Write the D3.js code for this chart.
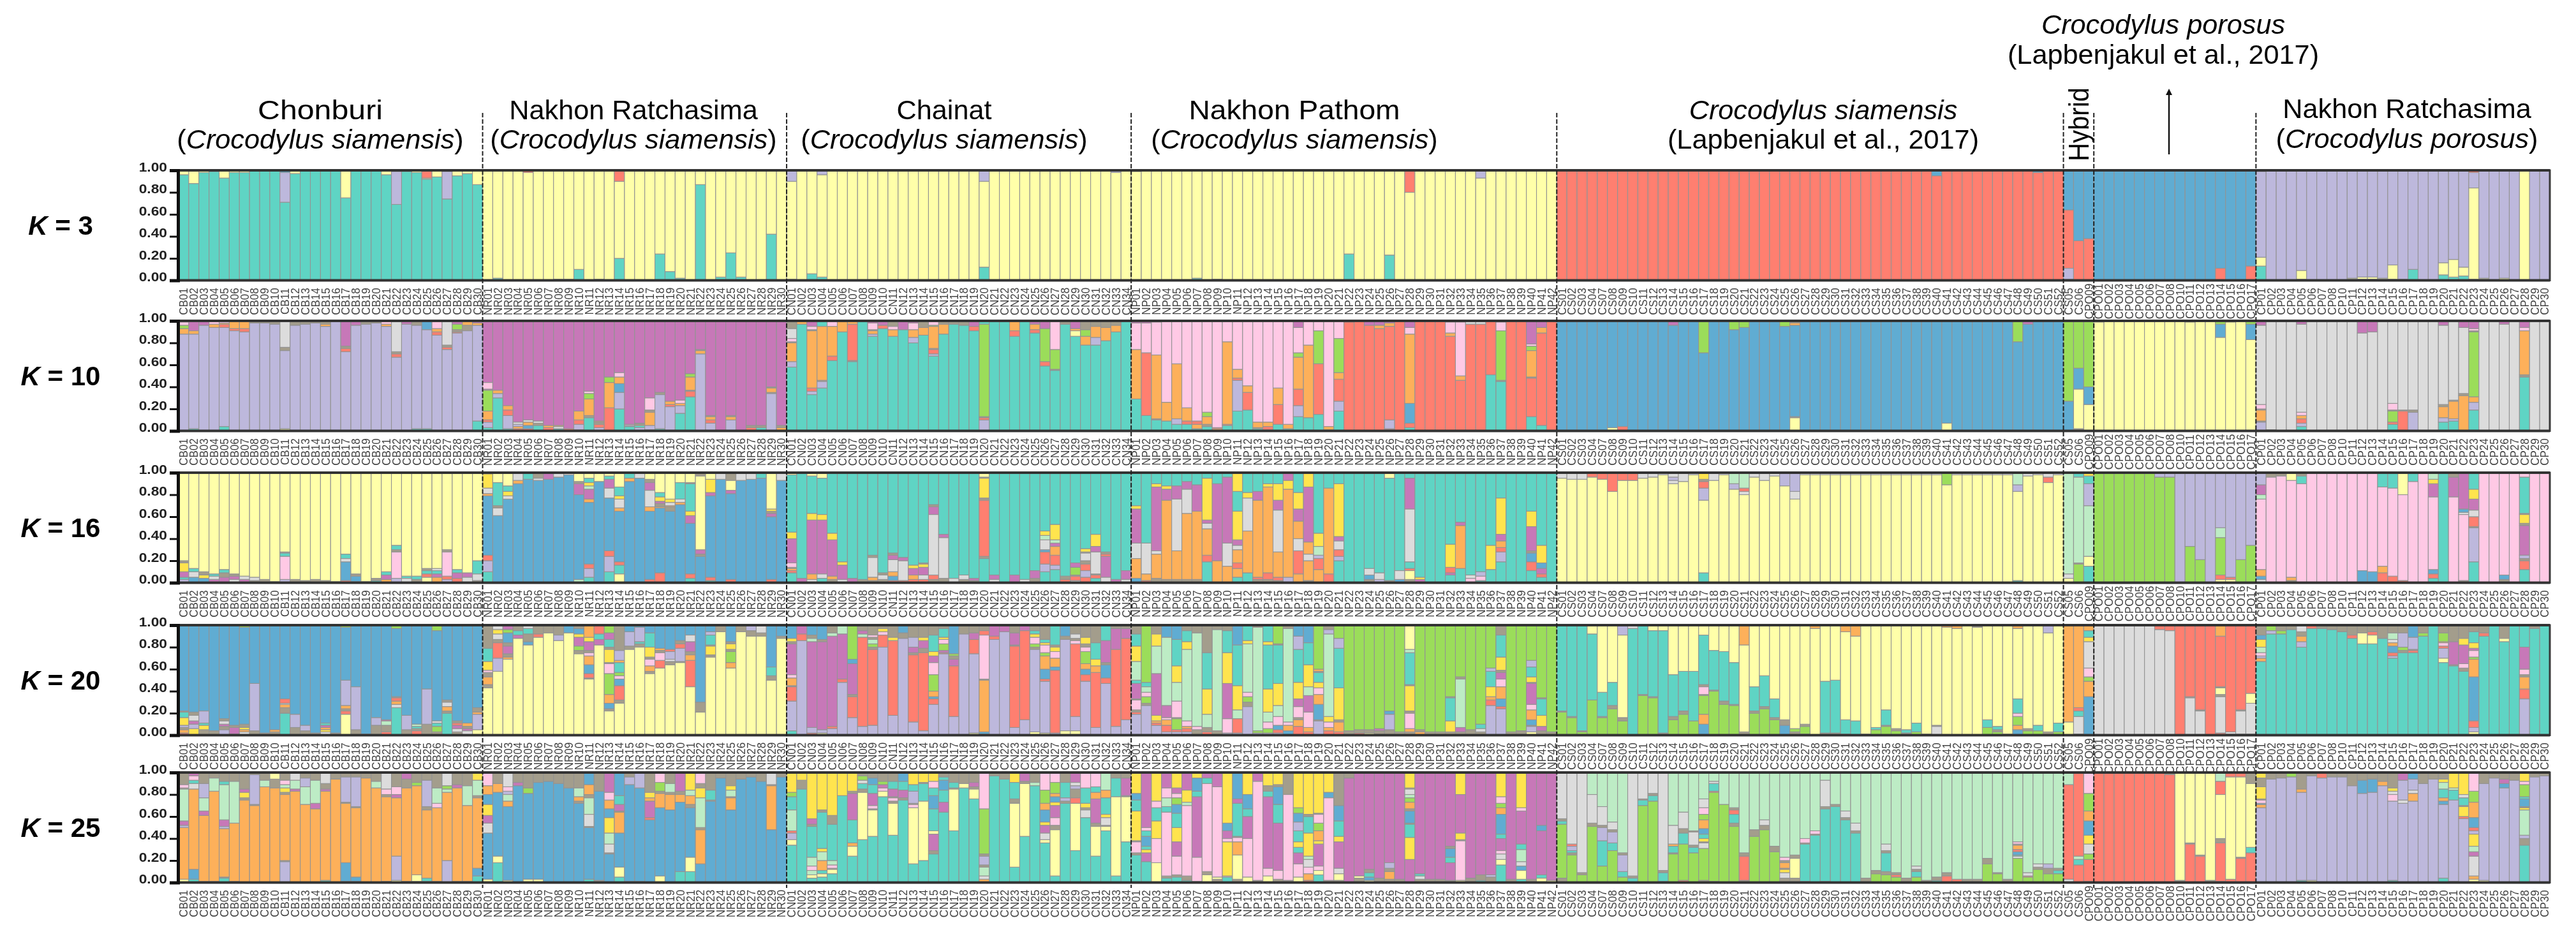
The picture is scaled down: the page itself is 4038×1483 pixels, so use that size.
<!DOCTYPE html>
<html><head><meta charset="utf-8">
<script src="https://cdn.jsdelivr.net/npm/d3@7"></script>
<style>html,body{margin:0;background:#fff}svg{display:block;filter:blur(.7px)}text{font-family:"Liberation Sans",Arial,sans-serif}</style>
</head><body><svg id="c" width="4038" height="1483"></svg>
<script>
// Cluster colours
const clusterKeys=["t","y","l","r","b","o","g","p","s","m","n","Y","x"];
const clusterColors=["#5fd4c4","#ffffa9","#bdb8dc","#ff7f70","#60acd2","#fdb05a","#9bdd5a","#ffc9e5","#dcdcdc","#c778b8","#bdecc5","#ffe44e","#a39d8c"];
// Individuals
const range=(p,a,b,skip=[])=>d3.range(a,b+1).filter(i=>!skip.includes(i)).map(i=>p+String(i).padStart(2,"0"));
const labelsCB=range("CB",1,30),labelsNR=range("NR",1,30),labelsCN=range("CN",1,34),labelsNP=range("NP",1,42);
const labelsCS=range("CS",1,52,[5,6]),labelsHY=["CS05","CS06","CPO09"],labelsCPO=range("CPO",1,17,[9]),labelsCP=range("CP",1,30,[9]);
const yTicks=[0,.2,.4,.6,.8,1];
// Each bar: bottom-to-top "cluster+percent" segments; last segment fills to 1.00; *n repeats
// K = 3
const k3CB="t96y t88y t98y t99y t93y t98y t98y t*3 t71l27b t97y t*4 t75y t*3 t96y t69l30y t99y t98y t92y1r t94y t74l25y t95y t97y t87y";
const k3NR="y t2y y y y98r y y t1y t1y t10y y t1y y t20y70r y y y t24y t8y t2y y t87y y t3y t25y t3y y y t42y y";
const k3CN="t1y89l y t6y t3y93l y*15 t12y78l y*12 y98l y";
const k3NP="y99l y y y y y t2y y t1y y*12 t24y y y y t23y y y80r y*6 y93l y*7";
const k3CS="r*37 r95b r*9 r98b r r";
const k3HY="t1l10r53b r36b r38b";
const k3CPO="b*12 r11b b b r13b";
const k3CP="t13y8l78r l l l t1y8l l l l l t1y1l t1y2l t1y2l t1y1l t1y13l y1l t10l l l t5y11l t3y16l t4y8l t1y83l14r t1y1l l y2l l y l l";
// K = 10
const k10CB="l88o5g3p3m t2l86o3m l96m l94o3p t4l90r3o1p l91r2o3 l90r3o3 l98x l98x l97x y2l71x3s l96x l97x l98x l95o2x l99 l72r3x2m l96m l97x l98x l95o2p l67r3x2s l97m t2l94x t2l90b6 l87r3o3p5 l74r2x2s l89r1x2g5m l91x5o t9l87o2m";
const k10NR="t3l5r2o8g19m1p6m t30l4o3m t2l12r5o4m r2o2l2s2m r2b3o3s2m t5x2s2m r3o2m t2s2o1m r2m t1l5r4o8m t12x2o15g5p2m l3r3x2o1m r21o23g5m t20l15b8o6p4m t4l1p1m l3t2o1x1m t1l4o12x2p11m t2l31x2m l22r2o3m t16l7o2p3m t31r5x1o12g3m l70o3x1m l7r3o3x1m m l10o3x1m m r3x2m t3x2m l34x1o4x1m o3x2m";
const k10CN="t58l5o17x1p3s9x t97o t33l3r3o52x1p3m t39l6x1o49t t64r4o27p t90o t63x1r33o t t86l2o3x1p6m t93r3m t86o6p3x t92m t80l5o7p6m t87o7x t68l2r4x1o20g1p t88o9x t97x t96x t91r4m l10r2x1g84t t t t86r5o8 t t89r3o5m t59r4g30m t55x1g18p23 t97x t86y5o2m t78o8g6x t78l7o10x t82o12x t90o6x t";
const k10NP="t29o45p24m t14r57p27m t10x1o58p30m t9o17p t6l5o50p t6r3o12p t2o4r3p t4x2o7g4p o2r1p t5r1o75p t18l28r2o8p t19r16o6p t2x1o5p t1r3o4p t6r18o15p t2o4p t13l10r15o29g4p23m t12o66p t15r46g30p t1o3p t18l9r20o6g31p r99m r r96m r93o3m t1r1l8r85o3m r t3r4b18o63p6m r r r r86o3p10m r46o4p49m r97s r97s t51r t45x1g45p8m r r t13r35x1o24g4p2m t5r84o5m r";
const k10CS="b*5 y3b r4b b*4 b96m b b b71g b b b92g b94g b b b b95g y12x1b83o2x b*14 y7b b*6 b81g b97m b b b";
const k10HY="b27g x2y36b19g y24b16g";
const k10CPO="y99g y y y y y y y y y99b y y y85b12g2 y99g y y83b14g";
const k10CP="l8x1o10x1p4s72m g1s s s t4l3r4o3p3s80m s*5 s89m s90m s98 t6r2g10x1p6s r18x1s l17x2s s s t8l4o10x2s72m t9l2o16x1s o32x2s60m t19l7o5g59x1p2m s s s97m s t49x2o40p3m s s";
// K = 16
const k16CB="l3t2m5Y8x2y b5s5t3y b4Y3x3y m3s3t2y m5x4t3y s3m3x2y m3s3y x2s3y x3y x1y l3p21t3x1y x3y x2y x3y x2y x1y r2b17s3t4y r1b5x2y x1y t2x2y o3m4t3y l4p24x2t4y s4t2y x3t3y y5r3t3x2y o5m3t3s2y l3r3p22x2y r4m5t3y s5m4y x2s6t12y";
const k16NR="t10l10r5b54o2s5Y13y b61s7x2t21y b76s3Y4t5y b90o3s b94t b93s2x b94m b96s b98s n3b77m10x2y t5l8r4b56o3m9n3Y3t4y b92y t10l14r5b48s9m8t3y y8t8r3b46o3s8Y3t8y b92o3t b95s r3b62o4s15m7x3y r9b59o1x3m2Y4t4y b65x4o1s3Y3y b71o2s3t15y t4r4b46m7Y4t25x1y b24x2m4y67x t2r3b74m3Y12y b94s r3b78m3y9x b93s b94s b95t r3b57m3x2Y2y b93s";
const k16CN="t9r2o2x1p4m22Y6t52y m4t s3o5m49Y6t34y t4s4m49Y5t33y x3o3m33Y6t s3m13Y3t m4t x3t x2o3s18x2t97y x3s4x2t r2b4o4s11m4x2t r2s18m3t r3o4m6Y3t r3s4m7Y3x1t x3r4s55m7x2t x4s37m3t s4t x3s4t x2m2t t22x2r51x2Y18x1y s3m4t t m7t s3t x4m7t t10l7r11b2s9n4Y4t t12l4r9o8m3n3Y14t r3x3t s2r4x1g7m4t r5l6r6x3s7x1Y3t t4r3x1s20m5Y11t s5m19r2x2t m3t s3m8t";
const k16NP="b4o18s14m31Y3t r2o6s28t x4o22s3m58Y3t x3o72m10Y3t x3o26s47m12t x3o60s22m7t x3o62m24t t19r6o24s5m3Y38t o20m70t o15s21m60t t5o8r5o12s4m5Y26t18Y t9o38s30Y5t x3r2o70m8t x3r6o78Y3t x2r3o23s38m9Y15t l5o80Y8m o8r21s11o16m11Y15t x2o18s6o11m50Y o12r10l3n8Y12t r8o78t t20l4r6s8m4Y48t t t x3b4s6t l3s6t x2t93y b3s8t x3y8r2t6s48m28t m3Y2t t t t7m2r5Y21t t13o39m3t p4s3t t2p4l4t t12Y22t t19l9r4o6m6Y33t t t t11r8b8x2m22Y14t t5r3m5b5Y16t t";
const k16CS="y95s y94s y94s y96r y94r y83r y93r y93r y95s y96s y98s y90s3l3s y92s y98s t9y66l11r6x2Y y93s y98s y85l5n y80s3r3n y96s y93s y97s y88l y76s7l y98s*14 y89g y98s*6 t2y81l6n y97s y98s y91r5s y98s";
const k16HY="y4s4n92x g17x1n78t t15y9n46l20t7Y";
const k16CPO="g g g g g g g96l g96l l g33l g21l l y3r4g34n9l y3r2l g21l g34l";
const k16CP="s3b3o6p64n4m9l4 p96x p97x x2o3p88y p90t7x p p p p p b11p b10p r9o6p72t r6p80t r2p78y p92t p t4r4b4p66m12Y4n t p78m18x x2p60s2b3m26 t19l31x1r9s6m10Y9t p p x3b4p p t12r8x2l3m27x2Y8x1t33p p p";
// K = 20
const k20CB="r2o3x2l2Y7t5x1b Y6l4m3s5x3b x5Y4t2l11b x4b l5x3m2s3x2b x1m6x2b s3o2Y2x3b88g x4l43b x2b x3o2b t20x5o3s1r4b x7l12b x4l5b x2b s3Y2o2m2t2b x2b y19r3x2o3l23b48g x5l39b x1b x9l7b r3x6n4m1b t25s3o3r3x1b62g x5l13b r4x2t2n2b x10l32b x3g5t3s2b82g t20x2o4s4x2b x3s3m3r2x2b s4m2x2o3b y5l14o2x4b";
const k20NR="y43x3o7x4p2Y8t12x y58l12r14x3s5Y4s y69o2x3m7x3b9g3m y88m3t4x y82b3x7t5s y89r3x y93x y86l5x y93b y74x3g4m8Y3b5x y51x1r4b8o8p3x2m8Y4o y82m5t5r y22x2b5o8g19p9x1Y12x2t7m6g y29x3r13b6p3g3t9o2l9x y78x3l13b y80x3t2l13b y56x2o5p6x2Y9t13b y61r7p7x2o2b y64x3s2l7r2b y66x1l12r4x3b y44r24o5x3m9s6b y21x9b y71x2Y8x1t9l3b y94x y61o5g10x2Y5x2b y94x y90x5l y90x3s y50x4t8b y88x2b";
const k20CN="t4l27r13x1o7p3m28x2Y3b l86r6m r2l5m78n3x3b y2l3m80x2b l6r2m82n3x l48r3m41n l16r19x2m28b4g l8r81n3m3x l9r69x2g3n4x2p2x l80r11p3Y3x l18r68Y3x l88x5b l12r61x2m5l9x l4r71x4m7Y3x l28r5b2o5g15p11m6Y4t15x l74r1m2g6p4Y2t8x l17r46m6x3g2b l92x y2l72r13m6x x1b2o47x1p40r4x l87r3m l94m l7r74x1m11x l14r81m y3l75x2g3p6Y3t3x y2l47r2b9o12g3p7Y2t3x l2r57b3o8p6Y4x2t y4l83x3b y4l13r66p3x2s4x l49r6b5o5g11p4x3Y6x l7r50o6Y6t15x l47r5b12x2m20t l8r70m19x l14r74m9x";
const k20NP="l19r2x2p9x1m14t3n17Y14t11x l27x2g6p4n5t4g l9r2o2Y5m38n25Y11x l3r6o5p2m11n62b l3r2g10x1p15n17Y15t24b l3r3o2p5n65Y7t10x x5p3n85x r3x4n12Y23t33x x4n92x l2p13m32Y28t20x l2r13n8Y22t37b l26x4g5p4n44Y3t l2g2n94x l2g4p6n9Y21t40Y3t l2r3b4p8n10Y20t35x1g b4o5p3n85x r8o6x2p10m7Y15t30l12b r3o4p14m15n8Y20t20b l13x1b14o9p6Y5t9x1o2g r4o3p5Y5n75l4x r3o9x2Y29t36l9g x4g r2x3g y2x3g x4m2g x5l14b3g x3g x3o3p14x2Y23x1t29n3y o3x2g x3g x3g x3Y10t21x1g x3m4n44x2g x5g x3s3t4g l27r5o3Y9t14l3g l24r2b7o11p7m6x2Y12t20x x3g x4g y3l5x1b5o9p5m19x1Y5t9l6g x4m4Y10t15x1g x3g";
const k20CS="g21x1t g16x1t g3x1t g32t60y g16x1t22y g24x3t21y g13x3y75l t97s g36x1t g34x1t60y x2t93y g14x3t38y g19x3t36y g13t45y b10o9g17x1p7x2t45y g40x1t36y g28x3t45y g27x1t38y x3y79o g20x2t22y g24x2t28y g14x2t17y b9x5y x3g3y x1g7x2y y97o x2t47y x2t48y x1t13y80o t13y77o x1y g5t2y g8x1t14y g4x2y x2t3y g3t8y x1y s8x1y y98o y97o y y98x g7t7y g3x2t3y x1y b5o4g8p3t13y64o g4x2y g4t5y x3y90l g3t8y";
const k20HY="y12o x1s16t5r3o b35o14g4p8s24Y4t6o";
const k20CPO="s s s s s s s96r s95r r s34x1r s22x1r r r2s33x2y6x1r46o x1s2r x1s21x1r x1s28y9r";
const k20CP="t67o3l2p3n5Y7b4x t92l3g t92g3x t96x t80l5o5x4s t97r t97x t96x t94x t88r3x t83y10x t83y8r3x t88x t70l2r3b6o3s3n6x t75x2g3l13x t75r2x1l11b t90g3x t t66y4l9r2p3o1g8x t63x1m21x t58x3p4m17Y6x y3l4r6b40o16g2p6m2Y5t10x t90r3x t t85y3x t l33r9o11x2p5m20t t97x t";
// K = 25
const k25CB="y3o47l2m4n29x1p3x t3b9o73s5t3p4m x1o60m4n12l13x x1o82n12x t4x1o44l2m6n32t3x x1o53n38x o75x2Y5m3x o70x1l27x o87n6x o86x8y l19x1o60x2Y4n3p4x o83m2n8s o71n16l8x o67m5n21x t2o81m2x5s o94x x1b17o54x1l23x x1b4o63x1l27x o95x o86n6x x1o77x2p5s y2l22o53m3p7x x1o85x8m x1y6o81g3x x1t3o62x3l24x x1o67p4n14x l20o62n3g3s x1o85m3x x1o69n18x t6b7o64x2n14Y";
const k25NR="y3b42s9m7Y10b9o8p t18y6b58o8x y2b67o5n6l3p4s b88m3x y3b78g5x y3b88x b92x b90x b86x b72x2o4n8x t3b47x1s11n15x3o9b x2b81x b26x1s8n10Y14b8o8p7m t5y9b31o19x1m6t8b t1b88l7x x1b85l b57r2m15o3Y5x y6b62o13x2g8p b66o14x2n8x t10b63o7x3m t10y13b45x3o8n5Y b17o31x2n27Y9x4p b74x1t9x b95x b66o11x1n6Y4x b94x b96x b92x b48o40x1s b96x";
const k25CN="t34y5l6r2n19t12g4Y t85x8Y t4y3n4p4n8t28x2m5Y t5y3t3o9n8Y3t33x2Y t8y4x1p3n4t33x8Y t79Y t24y9o3t21m24x2Y t39y43x3t5s3g4x t42y24x1p3m11t8b6x t78y5p3m3g3x t43y29x2p3x1m7t7x t75x2m7t8b t17y51p3x1l11t6Y t20y54t16x1Y t26x3m15y3t20b12t7p6Y t64m9t11b9t3x t47y38x1t5x t86y4x t76y9x2m4x o3s3n8x2l8x2g41p t97x t94x t14y58x4t15Y t42y48x2m t88n3x t36y3s6m7Y3b11o6g12p t6y42x4p7m11Y3b5o3g10p t72x2l3t14x t29y43r5x8l3s3m t59s7x2Y4t14p t24y27x3m22o6t5p t47y4x1s7Y3t15o7n t6y72t17x t37y41x1m16x";
const k25NP="t25x2p10x1Y27t10b6Y t19m8Y3t3b9t5p3m y18p22Y16t12p6Y t4x2p58t5n8p9m t5x2p17m13Y13t13b8g6p4m5Y t2x4p64n3Y11m x1p22m55t5b12Y y7x3p80t5m x3y2p82m t5p1Y31p3m7b7Y x3y22o12p4x1t30m4b y5p35m20t7b13Y x2p90m y6p7m65t5x5Y x3p8m43t17b16x2Y x2p78x y5p12m10t5Y5t10l8b8g5Y r2o6p6s7n3Y21t15x2Y t7y4p4m20Y3o9g7p8x1Y x2p75b5Y x2y6s5m24Y5t14b14x m95x x4y2m y2b3t4x3m x4m x3o7x3l5m x3m m21Y20t12x1b11x2o6g4n3s5x1Y x3s3t2m x3m x3m x2m16t5b8x2m y2p36x1Y6m35Y x4m t2x5m x5l2m t16y5s5p3m11t4b18o6g4p6Y x3m t3y8b4s4n11t5m30p3Y x3m y4t3m40b5m y2m";
const k25CS="x4g49t3x2s g25x2t2l4r2s g7x2s g51x3s26n g15t23l12x2s17n g29t7l10x2s7n g5t5l15x2n t4x2s g70t5x1s g74t5x2s x1t8x2s g26x1t6o2s17n r2g33t10x4s15n g27t5x2s12x1n x2g29s5x1Y3t4b5o8g5p6s8n x1g81r1t7s2n g71n g51x3t8r4x2n x2r22x3n g42x6n g48x4s5n g28x5n x4s5Y3x1o5x2p3n x4y18x3n x1t34x1p4n t43x1p3n x1t66x2s24n t69x2n t57x2s6n t45x2s7n x4n g8x3n g7x3t17x2s6n g5r2x2n x4n g5t5x2s3n x2n t2x3n r6x3n r3n x3n x3n g17x5n g8x1n x3n g22s2t1b3r2o4x1p2n g5r1s3n g12x2s3n g8x5l4n g8t3x2n";
const k25HY="s3r86n r16t5n3r g1r20g5s9Y8b13o9g16p";
const k25CPO="r r r r r r r r98x x2y r35x1y r24x1y x2y x1r35x4y40r12n r3y93r r22x1y73r r27t5y58x";
const k25CP="l68o3b1p3x1Y11x8Y l94x l95x l96g t2l80o3x y2l95x l95r l96x l96x l88x l81b12x l82b12x l88o4x t2l72p6s3Y3x l72s3l18m l74o7s3l10b l90x l94x t4l67b3o3t8n6Y3x x1l74t9n2Y l58r2Y9x1t7s3Y y3o3s18m4n5Y11l3r3b9o14g10p y2l88x l95x l86b4m4x l93x t34x6l3n23Y2x1b7t2g11p3Y l96x l97x";

const groupLabels=[labelsCB,labelsNR,labelsCN,labelsNP,labelsCS,labelsHY,labelsCPO,labelsCP];
const rows=[
 {k:"3",top:267,d:[k3CB,k3NR,k3CN,k3NP,k3CS,k3HY,k3CPO,k3CP]},
 {k:"10",top:503,d:[k10CB,k10NR,k10CN,k10NP,k10CS,k10HY,k10CPO,k10CP]},
 {k:"16",top:741,d:[k16CB,k16NR,k16CN,k16NP,k16CS,k16HY,k16CPO,k16CP]},
 {k:"20",top:980,d:[k20CB,k20NR,k20CN,k20NP,k20CS,k20HY,k20CPO,k20CP]},
 {k:"25",top:1211,d:[k25CB,k25NR,k25CN,k25NP,k25CS,k25HY,k25CPO,k25CP]}];
const H=172.5, svg=d3.select("#c");
const allLabels=groupLabels.flat();
const x=d3.scaleBand().domain(allLabels).range([280,3997]).padding(0);
const color=d3.scaleOrdinal(clusterKeys,clusterColors);
function expand(s){return s.split(" ").flatMap(t=>{const[a,n]=t.split("*");return n?Array(+n).fill(a):[a];});}
function parse(tok){const m=[...tok.matchAll(/([a-zA-Z])(\d*)/g)];let c=0;return m.map((e,i)=>{const v=(i===m.length-1||e[2]==="")?100-c:+e[2];const s={c:e[1],y0:Math.min(c,100),y1:Math.min(c+v,100)};c+=v;return s;});}
const problems=[];
rows.forEach(r=>{
 const y=d3.scaleLinear([0,1],[r.top+H,r.top]);
 const g=svg.append("g");
 r.d.forEach((str,gi)=>{
  let toks=expand(str); const labs=groupLabels[gi];
  if(toks.length!==labs.length) problems.push(r.k+":"+gi+"="+toks.length+"/"+labs.length);
  labs.forEach((lab,i)=>{
   const tok=toks[Math.min(i,toks.length-1)];
   g.selectAll(null).data(parse(tok)).join("rect")
    .attr("x",x(lab)).attr("width",x.bandwidth())
    .attr("y",d=>y(d.y1/100)).attr("height",d=>y(d.y0/100)-y(d.y1/100))
    .attr("fill",d=>color(d.c)).attr("stroke","#939393").attr("stroke-width",1.1);
  });
 });
 // frame
 svg.append("rect").attr("x",280).attr("y",r.top).attr("width",3717).attr("height",H).attr("fill","none").attr("stroke","#3a3a3a").attr("stroke-width",3);
 svg.append("line").attr("x1",280).attr("x2",3997).attr("y1",r.top).attr("y2",r.top).attr("stroke","#333").attr("stroke-width",4);
 svg.append("line").attr("x1",280).attr("x2",3997).attr("y1",r.top+H).attr("y2",r.top+H).attr("stroke","#333").attr("stroke-width",4);
 // y axis
 const ya=svg.append("g").attr("transform","translate(279,0)").call(d3.axisLeft(y).tickValues(yTicks).tickFormat(d3.format(".2f")).tickSize(13).tickPadding(4));
 ya.select(".domain").attr("stroke","#111").attr("stroke-width",5);
 ya.selectAll(".tick line").attr("stroke","#111").attr("stroke-width",3);
 ya.selectAll("text").attr("font-size",20).attr("font-weight","bold").attr("fill","#222").attr("font-family","Liberation Sans")
   .attr("transform","translate(-17,-5) scale(1.14,1) translate(17,0)");
 // x labels
 const xa=svg.append("g").attr("transform",`translate(0,${r.top+H})`).call(d3.axisBottom(x).tickSize(0));
 xa.select(".domain").remove();
 xa.selectAll("text").attr("y",0).attr("dy",0).attr("font-size",17).attr("fill","#444").attr("font-family","Liberation Sans")
   .attr("text-anchor","middle").attr("dominant-baseline","central")
   .attr("transform","translate(0,33) scale(1.12,1) rotate(-90)");
 // K label
 svg.append("text").attr("transform",`translate(95,${r.top+H/2+15}) scale(1,1)`).attr("text-anchor","middle").attr("font-size",42).attr("font-weight","bold").attr("fill","#000")
   .call(t=>{t.append("tspan").attr("font-style","italic").text("K");t.append("tspan").text(" = "+r.k);});
});
// dividers
[labelsNR,labelsCN,labelsNP,labelsCS,labelsHY,labelsCPO,labelsCP].forEach(l=>{
 svg.append("line").attr("x1",x(l[0])).attr("x2",x(l[0])).attr("y1",177).attr("y2",1392).attr("stroke","#222").attr("stroke-width",2).attr("stroke-dasharray","7 3");
});
// titles: centre x, baseline, horizontal scale, text parts [text, italic]
const titles=[
 [502,187,1.15,[["Chonburi"]],233,[["(",0],["Crocodylus siamensis",1],[")",0]]],
 [993,187,1.03,[["Nakhon Ratchasima"]],233,[["(",0],["Crocodylus siamensis",1],[")",0]]],
 [1480,187,1.03,[["Chainat"]],233,[["(",0],["Crocodylus siamensis",1],[")",0]]],
 [2029,187,1.1,[["Nakhon Pathom"]],233,[["(",0],["Crocodylus siamensis",1],[")",0]]],
 [2858,187,1.03,[["Crocodylus siamensis",1]],233,[["(Lapbenjakul et al., 2017)",0]]],
 [3391,53,1.03,[["Crocodylus porosus",1]],100,[["(Lapbenjakul et al., 2017)",0]]],
 [3773,185,1.03,[["Nakhon Ratchasima"]],232,[["(",0],["Crocodylus porosus",1],[")",0]]]];
function line(cx,by,sx,parts){const t=svg.append("text").attr("transform",`translate(${cx},${by}) scale(${sx},1)`).attr("text-anchor","middle").attr("font-size",42).attr("fill","#000");
 parts.forEach(p=>t.append("tspan").attr("font-style",p[1]?"italic":"normal").text(p[0]));}
titles.forEach(t=>{line(t[0],t[1],t[2],t[3]);line(t[0],t[4],1.03,t[5]);});
svg.append("text").attr("transform","translate(3274,195) scale(1.1,1) rotate(-90)").attr("text-anchor","middle").attr("font-size",40).attr("fill","#000").text("Hybrid");
// arrow
svg.append("line").attr("x1",3400).attr("x2",3400).attr("y1",242).attr("y2",148).attr("stroke","#111").attr("stroke-width",2.5);
svg.append("path").attr("d","M3400 139 L3395 149 L3405 149 Z").attr("fill","#111");
if(problems.length) svg.append("text").attr("x",10).attr("y",30).attr("font-size",24).attr("fill","red").text(problems.join("  "));
</script></body></html>
